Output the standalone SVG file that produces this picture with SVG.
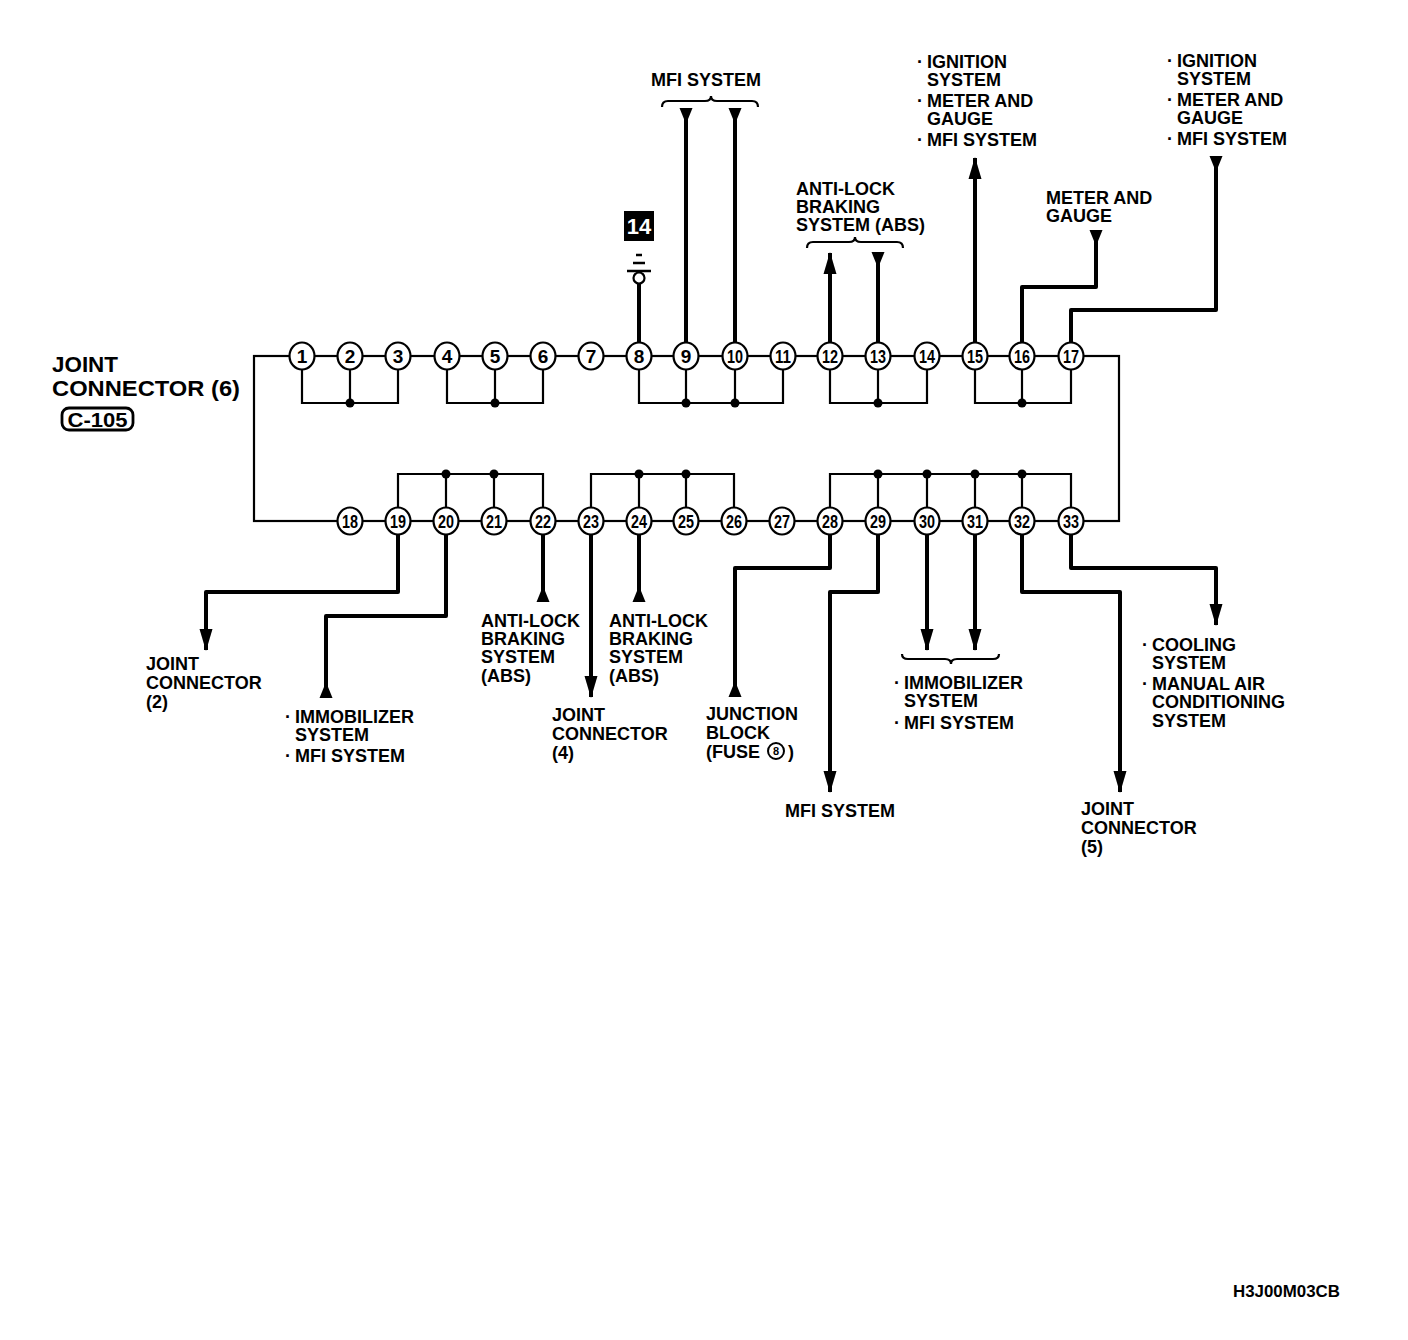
<svg xmlns="http://www.w3.org/2000/svg" width="1408" height="1340" viewBox="0 0 1408 1340">
<defs>
<style>
.thin{fill:none;stroke:#000;stroke-width:2.2;stroke-linejoin:miter}
.thick{fill:none;stroke:#000;stroke-width:4;stroke-linejoin:round}
.arr{marker-end:url(#arrow)}
.rev{marker-end:url(#rev)}
.pin{fill:#fff;stroke:#000;stroke-width:2.2}
.pn{font-family:"Liberation Sans Narrow","Liberation Sans",Arial,sans-serif;font-size:19px;font-weight:bold;text-anchor:middle;fill:#000}
.lbl{font-family:"Liberation Sans",Arial,sans-serif;font-size:18px;font-weight:bold;fill:#000}
.big{font-family:"Liberation Sans",Arial,sans-serif;font-size:22px;font-weight:bold;fill:#000}
.dot{fill:#000}
</style>
<marker id="arrow" markerUnits="userSpaceOnUse" viewBox="-24 -8 26 16" refX="0" refY="0" markerWidth="26" markerHeight="16" orient="auto" overflow="visible">
<path d="M1,0 L-21,-6.5 L-21,6.5 Z" fill="#000"/>
</marker>
<marker id="rev" markerUnits="userSpaceOnUse" viewBox="-18 -8 20 16" refX="0" refY="0" markerWidth="20" markerHeight="16" orient="auto" overflow="visible">
<path d="M1,-6.5 L1,6.5 L-15,0 Z" fill="#000"/>
</marker>
</defs>
<rect width="1408" height="1340" fill="#fff"/>

<g id="title">
<text class="big" x="52" y="372" textLength="66" lengthAdjust="spacingAndGlyphs">JOINT</text>
<text class="big" x="52" y="396" textLength="188" lengthAdjust="spacingAndGlyphs">CONNECTOR (6)</text>
<rect x="62" y="408" width="71" height="22" rx="7" fill="#fff" stroke="#000" stroke-width="2.8"/>
<text x="97.5" y="427" font-family="Liberation Sans Narrow,Liberation Sans,sans-serif" font-size="20" font-weight="bold" text-anchor="middle" textLength="60" lengthAdjust="spacingAndGlyphs">C-105</text>
</g>

<g id="connectors">
<rect class="thin" x="254" y="356" width="865" height="165"/>
<path class="thin" d="M302,356 V403 H398 V356 M350,356 V403 M447,356 V403 H543 V356 M495,356 V403 M639,356 V403 H783 V356 M686,356 V403 M735,356 V403 M830,356 V403 H927 V356 M878,356 V403 M975,356 V403 H1071 V356 M1022,356 V403"/>
<path class="thin" d="M398,521 V474 H543 V521 M446,521 V474 M494,521 V474 M591,521 V474 H734 V521 M639,521 V474 M686,521 V474 M830,521 V474 H1071 V521 M878,521 V474 M927,521 V474 M975,521 V474 M1022,521 V474"/>
<g class="dot">
<circle cx="350" cy="403" r="4.5"/><circle cx="495" cy="403" r="4.5"/><circle cx="686" cy="403" r="4.5"/><circle cx="735" cy="403" r="4.5"/><circle cx="878" cy="403" r="4.5"/><circle cx="1022" cy="403" r="4.5"/>
<circle cx="446" cy="474" r="4.5"/><circle cx="494" cy="474" r="4.5"/><circle cx="639" cy="474" r="4.5"/><circle cx="686" cy="474" r="4.5"/><circle cx="878" cy="474" r="4.5"/><circle cx="927" cy="474" r="4.5"/><circle cx="975" cy="474" r="4.5"/><circle cx="1022" cy="474" r="4.5"/>
</g>
<path class="thick" d="M639,343 V284"/>
<path class="thick rev" d="M686,343 V109"/>
<path class="thick rev" d="M735,343 V109"/>
<path class="thick arr" d="M830,343 V253"/>
<path class="thick rev" d="M878,343 V253"/>
<path class="thick arr" d="M975,343 V158"/>
<path class="thick rev" d="M1022,343 V287 H1096 V231"/>
<path class="thick rev" d="M1071,343 V310 H1216 V157"/>
<path class="thick arr" d="M398,535 V592 H206 V650"/>
<path class="thick rev" d="M446,535 V616 H326 V697"/>
<path class="thick rev" d="M543,535 V601"/>
<path class="thick arr" d="M591,535 V697"/>
<path class="thick rev" d="M639,535 V601"/>
<path class="thick rev" d="M830,535 V568 H735 V696"/>
<path class="thick arr" d="M878,535 V592 H830 V792"/>
<path class="thick arr" d="M927,535 V650"/>
<path class="thick arr" d="M975,535 V650"/>
<path class="thick arr" d="M1022,535 V592 H1120 V792"/>
<path class="thick arr" d="M1071,535 V568 H1216 V625"/>
<path class="thin" d="M662,107 Q662,101 668,101 H705 Q711,101 711,96 Q711,101 717,101 H752 Q758,101 758,107"/>
<path class="thin" d="M807,248 Q807,242 813,242 H849 Q855,242 855,237 Q855,242 861,242 H897 Q903,242 903,248"/>
<path class="thin" d="M902,654 Q902,659 908,659 H945 Q951,659 951,664 Q951,659 957,659 H993 Q999,659 999,654"/>
</g>

<g id="ground">
<rect x="624" y="211" width="30" height="30" fill="#000"/>
<text x="639" y="234" font-family="Liberation Sans Narrow,Liberation Sans,sans-serif" font-size="22" font-weight="bold" fill="#fff" text-anchor="middle">14</text>
<path d="M636,255 H642 M633,263 H645 M627,271 H651" stroke="#000" stroke-width="2.4" fill="none"/>
<circle cx="639" cy="278" r="5.5" fill="#fff" stroke="#000" stroke-width="2.2"/>
</g>

<g id="pin1"><ellipse class="pin" cx="302" cy="356" rx="12.5" ry="13.5"/><text class="pn" x="302" y="363">1</text></g>
<g id="pin2"><ellipse class="pin" cx="350" cy="356" rx="12.5" ry="13.5"/><text class="pn" x="350" y="363">2</text></g>
<g id="pin3"><ellipse class="pin" cx="398" cy="356" rx="12.5" ry="13.5"/><text class="pn" x="398" y="363">3</text></g>
<g id="pin4"><ellipse class="pin" cx="447" cy="356" rx="12.5" ry="13.5"/><text class="pn" x="447" y="363">4</text></g>
<g id="pin5"><ellipse class="pin" cx="495" cy="356" rx="12.5" ry="13.5"/><text class="pn" x="495" y="363">5</text></g>
<g id="pin6"><ellipse class="pin" cx="543" cy="356" rx="12.5" ry="13.5"/><text class="pn" x="543" y="363">6</text></g>
<g id="pin7"><ellipse class="pin" cx="591" cy="356" rx="12.5" ry="13.5"/><text class="pn" x="591" y="363">7</text></g>
<g id="pin8"><ellipse class="pin" cx="639" cy="356" rx="12.5" ry="13.5"/><text class="pn" x="639" y="363">8</text></g>
<g id="pin9"><ellipse class="pin" cx="686" cy="356" rx="12.5" ry="13.5"/><text class="pn" x="686" y="363">9</text></g>
<g id="pin10"><ellipse class="pin" cx="735" cy="356" rx="12.5" ry="13.5"/><text class="pn" x="735" y="363" textLength="16" lengthAdjust="spacingAndGlyphs">10</text></g>
<g id="pin11"><ellipse class="pin" cx="783" cy="356" rx="12.5" ry="13.5"/><text class="pn" x="783" y="363" textLength="16" lengthAdjust="spacingAndGlyphs">11</text></g>
<g id="pin12"><ellipse class="pin" cx="830" cy="356" rx="12.5" ry="13.5"/><text class="pn" x="830" y="363" textLength="16" lengthAdjust="spacingAndGlyphs">12</text></g>
<g id="pin13"><ellipse class="pin" cx="878" cy="356" rx="12.5" ry="13.5"/><text class="pn" x="878" y="363" textLength="16" lengthAdjust="spacingAndGlyphs">13</text></g>
<g id="pin14"><ellipse class="pin" cx="927" cy="356" rx="12.5" ry="13.5"/><text class="pn" x="927" y="363" textLength="16" lengthAdjust="spacingAndGlyphs">14</text></g>
<g id="pin15"><ellipse class="pin" cx="975" cy="356" rx="12.5" ry="13.5"/><text class="pn" x="975" y="363" textLength="16" lengthAdjust="spacingAndGlyphs">15</text></g>
<g id="pin16"><ellipse class="pin" cx="1022" cy="356" rx="12.5" ry="13.5"/><text class="pn" x="1022" y="363" textLength="16" lengthAdjust="spacingAndGlyphs">16</text></g>
<g id="pin17"><ellipse class="pin" cx="1071" cy="356" rx="12.5" ry="13.5"/><text class="pn" x="1071" y="363" textLength="16" lengthAdjust="spacingAndGlyphs">17</text></g>
<g id="pin18"><ellipse class="pin" cx="350" cy="521" rx="12.5" ry="13.5"/><text class="pn" x="350" y="528" textLength="16" lengthAdjust="spacingAndGlyphs">18</text></g>
<g id="pin19"><ellipse class="pin" cx="398" cy="521" rx="12.5" ry="13.5"/><text class="pn" x="398" y="528" textLength="16" lengthAdjust="spacingAndGlyphs">19</text></g>
<g id="pin20"><ellipse class="pin" cx="446" cy="521" rx="12.5" ry="13.5"/><text class="pn" x="446" y="528" textLength="16" lengthAdjust="spacingAndGlyphs">20</text></g>
<g id="pin21"><ellipse class="pin" cx="494" cy="521" rx="12.5" ry="13.5"/><text class="pn" x="494" y="528" textLength="16" lengthAdjust="spacingAndGlyphs">21</text></g>
<g id="pin22"><ellipse class="pin" cx="543" cy="521" rx="12.5" ry="13.5"/><text class="pn" x="543" y="528" textLength="16" lengthAdjust="spacingAndGlyphs">22</text></g>
<g id="pin23"><ellipse class="pin" cx="591" cy="521" rx="12.5" ry="13.5"/><text class="pn" x="591" y="528" textLength="16" lengthAdjust="spacingAndGlyphs">23</text></g>
<g id="pin24"><ellipse class="pin" cx="639" cy="521" rx="12.5" ry="13.5"/><text class="pn" x="639" y="528" textLength="16" lengthAdjust="spacingAndGlyphs">24</text></g>
<g id="pin25"><ellipse class="pin" cx="686" cy="521" rx="12.5" ry="13.5"/><text class="pn" x="686" y="528" textLength="16" lengthAdjust="spacingAndGlyphs">25</text></g>
<g id="pin26"><ellipse class="pin" cx="734" cy="521" rx="12.5" ry="13.5"/><text class="pn" x="734" y="528" textLength="16" lengthAdjust="spacingAndGlyphs">26</text></g>
<g id="pin27"><ellipse class="pin" cx="782" cy="521" rx="12.5" ry="13.5"/><text class="pn" x="782" y="528" textLength="16" lengthAdjust="spacingAndGlyphs">27</text></g>
<g id="pin28"><ellipse class="pin" cx="830" cy="521" rx="12.5" ry="13.5"/><text class="pn" x="830" y="528" textLength="16" lengthAdjust="spacingAndGlyphs">28</text></g>
<g id="pin29"><ellipse class="pin" cx="878" cy="521" rx="12.5" ry="13.5"/><text class="pn" x="878" y="528" textLength="16" lengthAdjust="spacingAndGlyphs">29</text></g>
<g id="pin30"><ellipse class="pin" cx="927" cy="521" rx="12.5" ry="13.5"/><text class="pn" x="927" y="528" textLength="16" lengthAdjust="spacingAndGlyphs">30</text></g>
<g id="pin31"><ellipse class="pin" cx="975" cy="521" rx="12.5" ry="13.5"/><text class="pn" x="975" y="528" textLength="16" lengthAdjust="spacingAndGlyphs">31</text></g>
<g id="pin32"><ellipse class="pin" cx="1022" cy="521" rx="12.5" ry="13.5"/><text class="pn" x="1022" y="528" textLength="16" lengthAdjust="spacingAndGlyphs">32</text></g>
<g id="pin33"><ellipse class="pin" cx="1071" cy="521" rx="12.5" ry="13.5"/><text class="pn" x="1071" y="528" textLength="16" lengthAdjust="spacingAndGlyphs">33</text></g>

<g id="labels" class="lbl">
<text x="651" y="86">MFI SYSTEM</text>
<text x="796" y="195">ANTI-LOCK</text>
<text x="796" y="213">BRAKING</text>
<text x="796" y="231">SYSTEM (ABS)</text>
<text x="917" y="68">·</text><text x="927" y="68">IGNITION</text>
<text x="927" y="86">SYSTEM</text>
<text x="917" y="107">·</text><text x="927" y="107">METER AND</text>
<text x="927" y="125">GAUGE</text>
<text x="917" y="146">·</text><text x="927" y="146">MFI SYSTEM</text>
<text x="1046" y="204">METER AND</text>
<text x="1046" y="222">GAUGE</text>
<text x="1167" y="67">·</text><text x="1177" y="67">IGNITION</text>
<text x="1177" y="85">SYSTEM</text>
<text x="1167" y="106">·</text><text x="1177" y="106">METER AND</text>
<text x="1177" y="124">GAUGE</text>
<text x="1167" y="145">·</text><text x="1177" y="145">MFI SYSTEM</text>
<text x="146" y="670">JOINT</text>
<text x="146" y="689">CONNECTOR</text>
<text x="146" y="708">(2)</text>
<text x="285" y="723">·</text><text x="295" y="723">IMMOBILIZER</text>
<text x="295" y="741">SYSTEM</text>
<text x="285" y="762">·</text><text x="295" y="762">MFI SYSTEM</text>
<text x="481" y="627">ANTI-LOCK</text>
<text x="481" y="645">BRAKING</text>
<text x="481" y="663">SYSTEM</text>
<text x="481" y="682">(ABS)</text>
<text x="609" y="627">ANTI-LOCK</text>
<text x="609" y="645">BRAKING</text>
<text x="609" y="663">SYSTEM</text>
<text x="609" y="682">(ABS)</text>
<text x="552" y="721">JOINT</text>
<text x="552" y="740">CONNECTOR</text>
<text x="552" y="759">(4)</text>
<text x="706" y="720">JUNCTION</text>
<text x="706" y="739">BLOCK</text>
<text x="706" y="758">(FUSE</text><text x="788" y="758">)</text>
<text x="785" y="817">MFI SYSTEM</text>
<text x="894" y="689">·</text><text x="904" y="689">IMMOBILIZER</text>
<text x="904" y="707">SYSTEM</text>
<text x="894" y="729">·</text><text x="904" y="729">MFI SYSTEM</text>
<text x="1081" y="815">JOINT</text>
<text x="1081" y="834">CONNECTOR</text>
<text x="1081" y="853">(5)</text>
<text x="1142" y="651">·</text><text x="1152" y="651">COOLING</text>
<text x="1152" y="669">SYSTEM</text>
<text x="1142" y="690">·</text><text x="1152" y="690">MANUAL AIR</text>
<text x="1152" y="708">CONDITIONING</text>
<text x="1152" y="727">SYSTEM</text>
</g>
<g id="fuse8">
<circle cx="776" cy="751" r="8" fill="#fff" stroke="#000" stroke-width="2"/>
<text x="776" y="755" font-family="Liberation Sans,sans-serif" font-size="11" font-weight="bold" text-anchor="middle">8</text>
</g>
<text x="1233" y="1297" font-family="Liberation Sans Narrow,Liberation Sans,sans-serif" font-size="17" font-weight="bold" textLength="107" lengthAdjust="spacingAndGlyphs">H3J00M03CB</text>
</svg>
